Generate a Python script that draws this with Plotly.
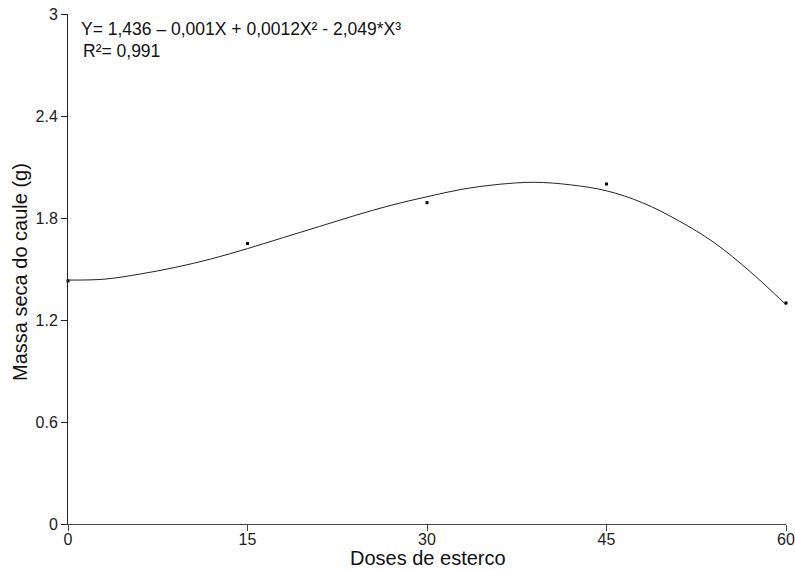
import plotly.graph_objects as go

# Observed data points
doses = [0, 15, 30, 45, 60]
massa = [1.43, 1.65, 1.89, 2.00, 1.30]

# Fitted curve
curve_x = [0, 3, 6, 9, 12, 15, 18, 21, 24, 27, 30, 33, 36, 39, 42, 45, 48, 51, 54, 57, 60]
curve_y = [1.435, 1.44, 1.47, 1.51, 1.56, 1.62, 1.685, 1.75, 1.815, 1.875, 1.925, 1.97, 1.998, 2.01, 1.995, 1.96, 1.89, 1.785, 1.655, 1.485, 1.29]

x_ticks = [0, 15, 30, 45, 60]
y_ticks = [0, 0.6, 1.2, 1.8, 2.4, 3]
y_tick_text = ["0", "0.6", "1.2", "1.8", "2.4", "3"]

font_family = "Liberation Sans, Arial, sans-serif"

W, H = 795, 570
L, R, T, B = 68, 9, 14, 46

fig = go.Figure()
fig.add_trace(go.Scatter(
    x=curve_x, y=curve_y, mode="lines",
    line=dict(color="#222222", width=1, shape="spline", smoothing=1.0),
    hoverinfo="skip", showlegend=False, cliponaxis=False,
))
fig.add_trace(go.Scatter(
    x=doses, y=massa, mode="markers",
    marker=dict(symbol="square", size=3, color="black"),
    showlegend=False, cliponaxis=False,
))

fig.update_layout(
    width=W, height=H,
    margin=dict(l=L, r=R, t=T, b=B),
    paper_bgcolor="white", plot_bgcolor="white",
    font=dict(family=font_family, size=16, color="#222222"),
    xaxis=dict(
        range=[0, 60], tickvals=x_ticks, ticks="outside", ticklen=6,
        tickcolor="#444444", showline=True, linecolor="#444444", linewidth=1,
        showgrid=False, zeroline=False, automargin=False,
        tickfont=dict(size=16), ticklabeloverflow="allow",
        ticklabelstandoff=-5,
    ),
    yaxis=dict(
        range=[0, 3], tickvals=y_ticks, ticktext=y_tick_text, ticks="outside",
        ticklen=6, tickcolor="#222222", showline=True, linecolor="#222222",
        linewidth=1, showgrid=False, zeroline=False, automargin=False,
        tickfont=dict(size=16), ticklabeloverflow="allow",
    ),
)

pw = W - L - R
ph = H - T - B
bottom = H - B
fig.add_annotation(
    x=(428 - L) / pw, y=-(558 - bottom) / ph, xref="paper", yref="paper",
    text="Doses de esterco", showarrow=False, xanchor="center", yanchor="middle",
    font=dict(size=20, family=font_family, color="#111111"),
)
fig.add_annotation(
    x=-(L - 20) / pw, y=(bottom - 272) / ph, xref="paper", yref="paper",
    text="Massa seca do caule (g)", showarrow=False, textangle=-90,
    xanchor="center", yanchor="middle",
    font=dict(size=20, family=font_family, color="#111111"),
)

fig.add_annotation(
    x=0.9, y=2.91, xref="x", yref="y",
    text="Y= 1,436 – 0,001X + 0,0012X² - 2,049*X³",
    showarrow=False, xanchor="left", yanchor="middle",
    font=dict(size=17.5, family=font_family, color="#111111"),
)
fig.add_annotation(
    x=1.07, y=2.78, xref="x", yref="y",
    text="R²= 0,991",
    showarrow=False, xanchor="left", yanchor="middle",
    font=dict(size=17.5, family=font_family, color="#111111"),
)

fig.write_html(
    "out.html",
    config={"displayModeBar": False},
    post_script="document.body.style.margin='0';document.body.style.overflow='hidden';",
)
